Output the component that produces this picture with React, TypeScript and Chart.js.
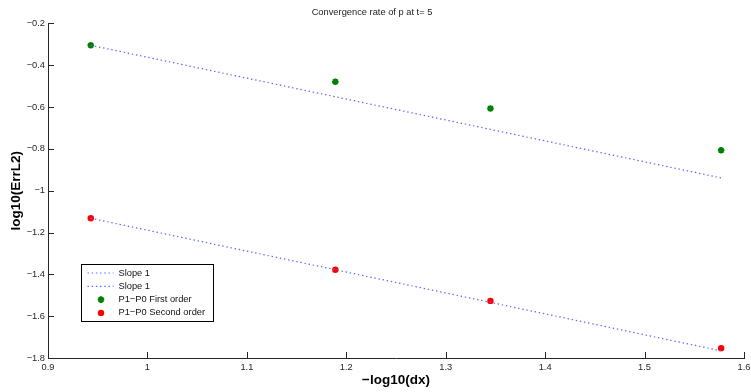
import React, { useEffect, useRef } from 'react';
import { Chart, registerables } from 'chart.js';

Chart.register(...registerables);

// Mesh refinement levels (-log10(dx)) and measured L2 errors (log10)
const meshX = [0.943, 1.189, 1.345, 1.577];
const firstOrderErr = [-0.305, -0.479, -0.607, -0.807];
const secondOrderErr = [-1.132, -1.378, -1.527, -1.753];

// Reference slope-1 lines
const slopeX = [0.943, 1.577];
const slopeUpper = [-0.305, -0.939];
const slopeLower = [-1.132, -1.766];

const seriesLabels = ['Slope 1', 'Slope 1', 'P1\u2212P0 First order', 'P1\u2212P0 Second order'];

const xTickValues = [0.9, 1, 1.1, 1.2, 1.3, 1.4, 1.5, 1.6];
const yTickValues = [-1.8, -1.6, -1.4, -1.2, -1, -0.8, -0.6, -0.4, -0.2];

const chartTitle = 'Convergence rate of p at t= 5';
const xAxisTitle = '\u2212log10(dx)';
const yAxisTitle = 'log10(ErrL2)';

const FONT = 'Liberation Sans, Arial, Helvetica, sans-serif';
const LINE_BLUE = 'rgb(95,95,255)';
const GREEN = '#008000';
const RED = '#ff0000';
const AXIS = '#262626';

const fmt = (v: number) => String(Number(v.toFixed(3))).replace('-', '\u2212');

const inwardTicks = {
  id: 'inwardTicks',
  afterDraw(chart: any) {
    const { ctx, chartArea, scales } = chart;
    const x = scales.x;
    const y = scales.y;
    ctx.save();
    ctx.strokeStyle = AXIS;
    ctx.lineWidth = 1;
    ctx.beginPath();
    x.ticks.forEach((t: any) => {
      const px = Math.round(x.getPixelForValue(t.value)) + 0.5;
      ctx.moveTo(px, chartArea.bottom);
      ctx.lineTo(px, chartArea.bottom - 6);
    });
    y.ticks.forEach((t: any) => {
      const py = Math.round(y.getPixelForValue(t.value)) + 0.5;
      ctx.moveTo(chartArea.left, py);
      ctx.lineTo(chartArea.left + 6, py);
    });
    ctx.stroke();
    ctx.restore();
  },
};

const boxedLegend = {
  id: 'boxedLegend',
  afterDraw(chart: any) {
    const { ctx, chartArea } = chart;
    const left = Math.round(chartArea.left + 33) + 0.5;
    const top = Math.round(chartArea.top + 241) + 0.5;
    const rowH = 13.3;
    ctx.save();
    ctx.font = `9.3px ${FONT}`;
    const maxW = Math.max(...seriesLabels.map((s) => ctx.measureText(s).width));
    const width = Math.round(37 + maxW + 8);
    const height = Math.round(rowH * seriesLabels.length + 4);
    ctx.fillStyle = '#ffffff';
    ctx.fillRect(left, top, width, height);
    ctx.strokeStyle = '#000000';
    ctx.lineWidth = 1;
    ctx.strokeRect(left, top, width, height);

    chart.data.datasets.forEach((ds: any, i: number) => {
      const cy = top + 8.5 + i * rowH;
      if (ds.showLine) {
        ctx.save();
        ctx.strokeStyle = ds.borderColor;
        ctx.lineWidth = ds.borderWidth;
        ctx.setLineDash(ds.borderDash);
        ctx.beginPath();
        ctx.moveTo(left + 6, cy);
        ctx.lineTo(left + 32, cy);
        ctx.stroke();
        ctx.restore();
      } else if (ds.pointStyle === 'star') {
        const cx = left + 19.5;
        const r = ds.pointRadius;
        ctx.save();
        ctx.strokeStyle = ds.borderColor;
        ctx.lineWidth = ds.borderWidth;
        ctx.beginPath();
        for (let k = 0; k < 4; k++) {
          const a = (k * Math.PI) / 4;
          ctx.moveTo(cx - r * Math.cos(a), cy - r * Math.sin(a));
          ctx.lineTo(cx + r * Math.cos(a), cy + r * Math.sin(a));
        }
        ctx.stroke();
        ctx.restore();
      } else {
        ctx.save();
        ctx.fillStyle = ds.backgroundColor;
        ctx.beginPath();
        ctx.arc(left + 19.5, cy, ds.pointRadius, 0, Math.PI * 2);
        ctx.fill();
        ctx.restore();
      }
      ctx.fillStyle = '#111111';
      ctx.textBaseline = 'middle';
      ctx.textAlign = 'left';
      ctx.fillText(ds.label, left + 37, cy);
    });
    ctx.restore();
  },
};

export default function App() {
  const canvasRef = useRef<HTMLCanvasElement | null>(null);

  useEffect(() => {
    if (!canvasRef.current) return;
    const toPts = (xs: number[], ys: number[]) => xs.map((x, i) => ({ x, y: ys[i] }));
    const chart = new Chart(canvasRef.current, {
      type: 'scatter',
      data: {
        datasets: [
          {
            label: seriesLabels[0],
            data: toPts(slopeX, slopeUpper),
            showLine: true,
            borderColor: LINE_BLUE,
            borderWidth: 1.2,
            borderDash: [1.4, 2.8],
            pointRadius: 0,
            fill: false,
          },
          {
            label: seriesLabels[1],
            data: toPts(slopeX, slopeLower),
            showLine: true,
            borderColor: LINE_BLUE,
            borderWidth: 1.2,
            borderDash: [1.4, 2.8],
            pointRadius: 0,
            fill: false,
          },
          {
            label: seriesLabels[2],
            data: toPts(meshX, firstOrderErr),
            showLine: false,
            pointStyle: 'star',
            pointRadius: 3.3,
            borderColor: GREEN,
            backgroundColor: GREEN,
            borderWidth: 2,
          },
          {
            label: seriesLabels[3],
            data: toPts(meshX, secondOrderErr),
            showLine: false,
            pointStyle: 'circle',
            pointRadius: 3.2,
            borderColor: RED,
            backgroundColor: RED,
            borderWidth: 0,
          },
        ],
      } as any,
      options: {
        animation: false,
        responsive: false,
        layout: { padding: { left: 0, right: 7, top: 0, bottom: 0 } },
        plugins: {
          legend: { display: false },
          tooltip: { enabled: false },
          title: {
            display: true,
            text: chartTitle,
            color: '#222222',
            font: { family: FONT, size: 9.3, weight: 'normal' },
            padding: { top: 7, bottom: 5.2 },
          },
        },
        scales: {
          x: {
            type: 'linear',
            min: 0.9,
            max: 1.6,
            afterBuildTicks: (scale: any) => {
              scale.ticks = xTickValues.map((v) => ({ value: v }));
            },
            afterFit: (scale: any) => {
              scale.height = 34;
              scale.paddingLeft = 0;
              scale.paddingRight = 0;
            },
            ticks: {
              color: AXIS,
              font: { family: FONT, size: 9.3 },
              padding: 4,
              maxRotation: 0,
              autoSkip: false,
              callback: (v: any) => fmt(Number(v)),
            },
            grid: { display: true, drawOnChartArea: false, drawTicks: false },
            border: { display: true, color: AXIS, width: 1 },
            title: {
              display: true,
              text: xAxisTitle,
              color: '#000000',
              font: { family: FONT, size: 13.5, weight: 'bold' },
              padding: { top: 0, bottom: 4 },
            },
          },
          y: {
            type: 'linear',
            min: -1.8,
            max: -0.2,
            afterBuildTicks: (scale: any) => {
              scale.ticks = yTickValues.map((v) => ({ value: v }));
            },
            afterFit: (scale: any) => {
              scale.width = 48;
              scale.paddingTop = 0;
              scale.paddingBottom = 0;
            },
            ticks: {
              color: AXIS,
              font: { family: FONT, size: 9.3 },
              padding: 3,
              autoSkip: false,
              callback: (v: any) => fmt(Number(v)),
            },
            grid: { display: true, drawOnChartArea: false, drawTicks: false },
            border: { display: true, color: AXIS, width: 1 },
            title: {
              display: true,
              text: yAxisTitle,
              color: '#000000',
              font: { family: FONT, size: 13.5, weight: 'bold' },
              padding: { top: 8, bottom: 0 },
            },
          },
        },
      } as any,
      plugins: [inwardTicks, boxedLegend],
    });
    return () => chart.destroy();
  }, []);

  return (
    <div style={{ position: 'absolute', left: 0, top: 0, width: 751, height: 392, background: '#ffffff' }}>
      <canvas ref={canvasRef} width={751} height={392} />
    </div>
  );
}
